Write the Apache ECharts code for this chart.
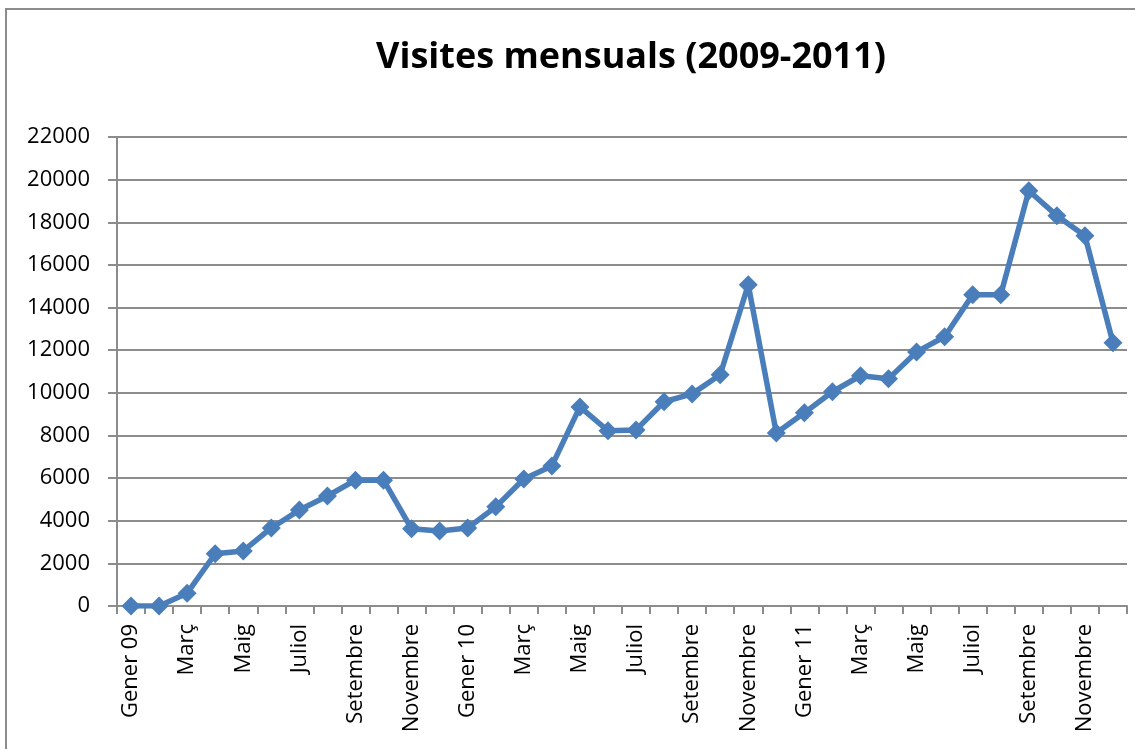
<!DOCTYPE html>
<html lang="ca">
<head>
    <meta charset="UTF-8">
    <title>Visites mensuals (2009-2011)</title>
    <script src="https://cdnjs.cloudflare.com/ajax/libs/echarts/6.0.0/echarts.min.js"></script>
    <style>
        body { margin: 0; background: #fff; }
        #frame { position: absolute; left: 5px; top: 8px; width: 1200px; height: 800px; border: 2px solid #8c8c8c; box-sizing: border-box; }
        #main { position: absolute; left: 0; top: 0; width: 1135px; height: 749px; }
    </style>
</head>
<body>
    <div id="frame"></div>
    <div id="main"></div>
    <script>
        // mesos (gener 2009 - desembre 2011)
        const months = ['Gener', 'Febrer', 'Març', 'Abril', 'Maig', 'Juny', 'Juliol', 'Agost', 'Setembre', 'Octubre', 'Novembre', 'Desembre'];
        const years = ['09', '10', '11'];
        const categories = [];
        years.forEach(y => months.forEach((m, i) => categories.push(i === 0 ? m + ' ' + y : m)));

        // visites per mes
        const visits2009 = [0, 0, 600, 2450, 2580, 3660, 4500, 5160, 5900, 5900, 3620, 3520];
        const visits2010 = [3660, 4650, 5960, 6570, 9340, 8220, 8260, 9580, 9950, 10850, 15070, 8120];
        const visits2011 = [9060, 10050, 10800, 10660, 11920, 12630, 14600, 14600, 19480, 18310, 17370, 12350];
        const visits = visits2009.concat(visits2010, visits2011);

        const font = 'Open Sans';
        const myChart = echarts.init(document.getElementById('main'));

        let option = {
            animation: false,
            title: {
                text: 'Visites mensuals (2009-2011)',
                left: 626,
                top: 35,
                textAlign: 'center',
                textStyle: { fontFamily: font, fontSize: 36, fontWeight: 'bold', color: '#000' }
            },
            grid: { left: 117, right: 8, top: 137, bottom: 143 },
            xAxis: {
                type: 'category',
                data: categories,
                boundaryGap: true,
                axisLine: { lineStyle: { color: '#8c8c8c', width: 2 } },
                axisTick: { show: true, length: 8, interval: 0, lineStyle: { color: '#8c8c8c', width: 2 } },
                axisLabel: {
                    interval: 1,
                    rotate: 90,
                    margin: 18,
                    fontFamily: font,
                    fontSize: 22,
                    color: '#000'
                }
            },
            yAxis: {
                type: 'value',
                min: 0,
                max: 22000,
                interval: 2000,
                axisLine: { show: true, lineStyle: { color: '#8c8c8c', width: 2 } },
                axisTick: { show: true, length: 9, lineStyle: { color: '#8c8c8c', width: 2 } },
                splitLine: { lineStyle: { color: '#8c8c8c', width: 2 } },
                axisLabel: { margin: 27, fontFamily: font, fontSize: 22, color: '#000', formatter: v => String(v) }
            },
            series: [
                {
                    name: 'Visites',
                    type: 'line',
                    data: visits,
                    symbol: 'diamond',
                    symbolSize: 19,
                    showAllSymbol: true,
                    lineStyle: { color: '#4a7ebb', width: 5.5 },
                    itemStyle: { color: '#4a7ebb' }
                }
            ]
        };

        myChart.setOption(option);
    </script>
</body>
</html>
